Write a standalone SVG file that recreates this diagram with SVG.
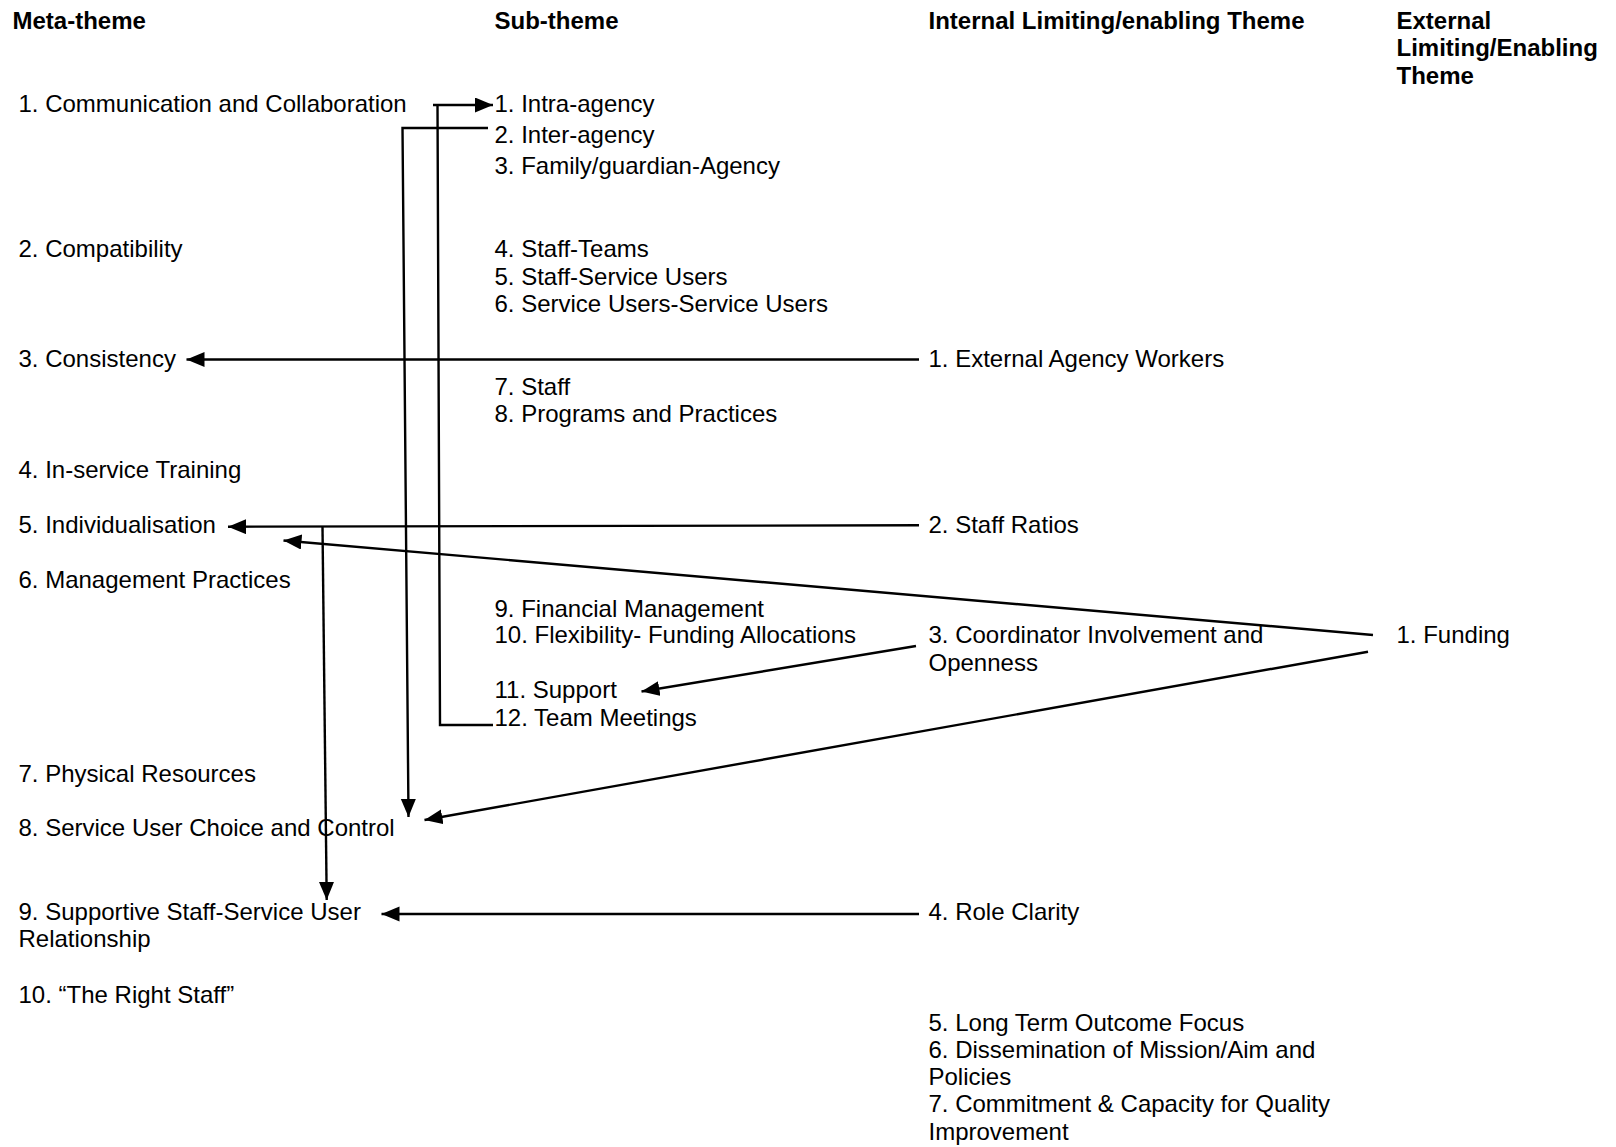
<svg xmlns="http://www.w3.org/2000/svg" width="1616" height="1147" viewBox="0 0 1616 1147">
  <style>
    text { font-family: "Liberation Sans", Arial, sans-serif; font-size: 24px; fill: #000; }
    .hdr { font-weight: bold; }
    .conn { stroke: #000; stroke-width: 2.4; fill: none; }
  </style>
  <defs>
    <marker id="arrow" markerUnits="userSpaceOnUse" markerWidth="20" markerHeight="16" refX="18" refY="7.5" orient="auto">
      <path d="M0,0 L18,7.5 L0,15 z" fill="#000"/>
    </marker>
  </defs>
  <rect width="1616" height="1147" fill="#fff"/>

  <!-- column headings -->
  <g id="headings">
    <text class="hdr" x="12.5" y="28.5">Meta-theme</text>
    <text class="hdr" x="494.5" y="28.5">Sub-theme</text>
    <text class="hdr" x="928.5" y="28.5">Internal Limiting/enabling Theme</text>
    <text class="hdr" x="1396.5" y="28.5">External</text>
    <text class="hdr" x="1396.5" y="56">Limiting/Enabling</text>
    <text class="hdr" x="1396.5" y="83.5">Theme</text>
  </g>

  <!-- meta-themes -->
  <g id="meta-1"><text x="18.5" y="111.5">1. Communication and Collaboration</text></g>
  <g id="meta-2"><text x="18.5" y="257">2. Compatibility</text></g>
  <g id="meta-3"><text x="18.5" y="366.5">3. Consistency</text></g>
  <g id="meta-4"><text x="18.5" y="478">4. In-service Training</text></g>
  <g id="meta-5"><text x="18.5" y="532.5">5. Individualisation</text></g>
  <g id="meta-6"><text x="18.5" y="587.5">6. Management Practices</text></g>
  <g id="meta-7"><text x="18.5" y="781.5">7. Physical Resources</text></g>
  <g id="meta-8"><text x="18.5" y="836">8. Service User Choice and Control</text></g>
  <g id="meta-9"><text x="18.5" y="919.5">9. Supportive Staff-Service User</text><text x="18.5" y="947">Relationship</text></g>
  <g id="meta-10"><text x="18.5" y="1003">10. “The Right Staff”</text></g>

  <!-- sub-themes -->
  <g id="sub-1"><text x="494.5" y="111.5">1. Intra-agency</text></g>
  <g id="sub-2"><text x="494.5" y="142.5">2. Inter-agency</text></g>
  <g id="sub-3"><text x="494.5" y="173.5">3. Family/guardian-Agency</text></g>
  <g id="sub-4"><text x="494.5" y="257">4. Staff-Teams</text></g>
  <g id="sub-5"><text x="494.5" y="284.5">5. Staff-Service Users</text></g>
  <g id="sub-6"><text x="494.5" y="312">6. Service Users-Service Users</text></g>
  <g id="sub-7"><text x="494.5" y="395">7. Staff</text></g>
  <g id="sub-8"><text x="494.5" y="421.5">8. Programs and Practices</text></g>
  <g id="sub-9"><text x="494.5" y="616.5">9. Financial Management</text></g>
  <g id="sub-10"><text x="494.5" y="643">10. Flexibility- Funding Allocations</text></g>
  <g id="sub-11"><text x="494.5" y="698">11. Support</text></g>
  <g id="sub-12"><text x="494.5" y="725.5">12. Team Meetings</text></g>

  <!-- internal limiting/enabling themes -->
  <g id="int-1"><text x="928.5" y="366.5">1. External Agency Workers</text></g>
  <g id="int-2"><text x="928.5" y="532.5">2. Staff Ratios</text></g>
  <g id="int-3"><text x="928.5" y="643">3. Coordinator Involvement and</text><text x="928.5" y="670.5">Openness</text></g>
  <g id="int-4"><text x="928.5" y="919.5">4. Role Clarity</text></g>
  <g id="int-5"><text x="928.5" y="1030.5">5. Long Term Outcome Focus</text></g>
  <g id="int-6"><text x="928.5" y="1057.5">6. Dissemination of Mission/Aim and</text><text x="928.5" y="1085">Policies</text></g>
  <g id="int-7"><text x="928.5" y="1112">7. Commitment &amp; Capacity for Quality</text><text x="928.5" y="1139.5">Improvement</text></g>

  <!-- external limiting/enabling theme -->
  <g id="ext-1"><text x="1396.5" y="643">1. Funding</text></g>

  <!-- connectors -->
  <g id="connectors">
    <line class="conn" x1="433" y1="105" x2="493" y2="105" marker-end="url(#arrow)"/>
    <polyline class="conn" points="437.5,105 440,725 493,725"/>
    <polyline class="conn" points="488,128 402.5,128 408.5,817" marker-end="url(#arrow)"/>
    <line class="conn" x1="919" y1="359.5" x2="186.5" y2="359.5" marker-end="url(#arrow)"/>
    <line class="conn" x1="919" y1="525.3" x2="228" y2="526.7" marker-end="url(#arrow)"/>
    <line class="conn" x1="1373" y1="635" x2="283.5" y2="540.5" marker-end="url(#arrow)"/>
    <line class="conn" x1="916" y1="646" x2="641.5" y2="691.5" marker-end="url(#arrow)"/>
    <line class="conn" x1="1368" y1="651.7" x2="424.5" y2="820" marker-end="url(#arrow)"/>
    <line class="conn" x1="322.5" y1="527" x2="326.7" y2="900" marker-end="url(#arrow)"/>
    <line class="conn" x1="919" y1="914" x2="381.5" y2="914" marker-end="url(#arrow)"/>
  </g>
</svg>
